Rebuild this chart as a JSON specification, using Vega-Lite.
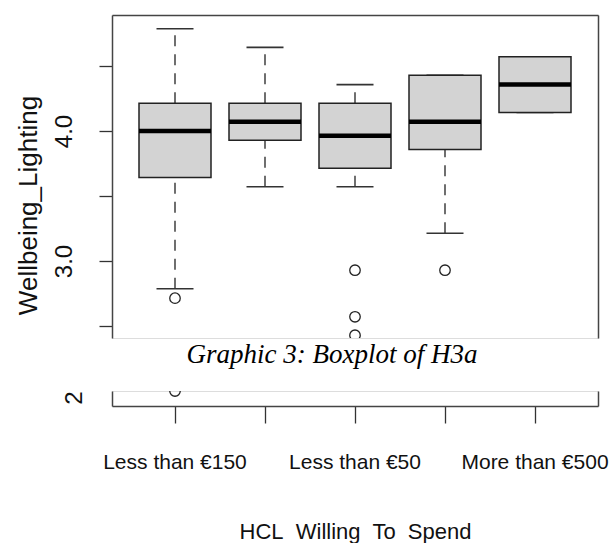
{
  "$schema": "https://vega.github.io/schema/vega-lite/v6.json",
  "background": "white",
  "padding": {"left": 14, "top": 14, "right": 0, "bottom": 0},
  "datasets": {
    "summary": [
      {"cat": "Less than €150", "lower": 2.786, "q1": 3.643, "median": 4.0, "q3": 4.214, "upper": 4.786},
      {"cat": "Less than €250", "lower": 3.571, "q1": 3.929, "median": 4.071, "q3": 4.214, "upper": 4.643},
      {"cat": "Less than €50", "lower": 3.571, "q1": 3.714, "median": 3.964, "q3": 4.214, "upper": 4.357},
      {"cat": "Less than €500", "lower": 3.214, "q1": 3.857, "median": 4.071, "q3": 4.429, "upper": 4.429},
      {"cat": "More than €500", "lower": 4.143, "q1": 4.143, "median": 4.357, "q3": 4.571, "upper": 4.571}
    ],
    "outliers": [
      {"cat": "Less than €150", "value": 2.714},
      {"cat": "Less than €150", "value": 2.0},
      {"cat": "Less than €50", "value": 2.929},
      {"cat": "Less than €50", "value": 2.571},
      {"cat": "Less than €50", "value": 2.429},
      {"cat": "Less than €500", "value": 2.929}
    ]
  },
  "resolve": {"scale": {"x": "independent", "y": "independent"}},
  "bounds": "flush",
  "spacing": 53,
  "vconcat": [
    {
      "width": 486,
      "height": 323,
      "resolve": {"axis": {"x": "independent", "y": "independent"}},
      "layer": [
        {
          "data": {"name": "summary"},
          "mark": {"type": "rule", "strokeDash": [11, 8], "color": "#222", "strokeWidth": 1.3, "opacity": 1},
          "encoding": {
            "x": {"field": "cat", "type": "nominal", "sort": null, "axis": null,
                  "scale": {"type": "band", "paddingInner": 0, "paddingOuter": 0.2, "domain": ["Less than €150", "Less than €250", "Less than €50", "Less than €500", "More than €500"]}},
            "y": {"field": "q3", "type": "quantitative", "axis": null, "scale": {"domain": [2.4077, 4.8923], "nice": false, "zero": false}},
            "y2": {"field": "upper"}
          }
        },
        {
          "data": {"name": "summary"},
          "mark": {"type": "rule", "strokeDash": [11, 8], "color": "#222", "strokeWidth": 1.3, "opacity": 1},
          "encoding": {
            "x": {"field": "cat", "type": "nominal", "sort": null, "axis": null},
            "y": {"field": "lower", "type": "quantitative", "axis": null},
            "y2": {"field": "q1"}
          }
        },
        {
          "data": {"name": "summary"},
          "mark": {"type": "tick", "size": 37, "thickness": 1.6, "color": "#333", "orient": "horizontal", "opacity": 1},
          "encoding": {
            "x": {"field": "cat", "type": "nominal", "sort": null, "axis": null},
            "y": {"field": "upper", "type": "quantitative", "axis": null}
          }
        },
        {
          "data": {"name": "summary"},
          "mark": {"type": "tick", "size": 37, "thickness": 1.6, "color": "#333", "orient": "horizontal", "opacity": 1},
          "encoding": {
            "x": {"field": "cat", "type": "nominal", "sort": null, "axis": null},
            "y": {"field": "lower", "type": "quantitative", "axis": null}
          }
        },
        {
          "data": {"name": "summary"},
          "mark": {"type": "bar", "width": {"band": 0.8}, "fill": "#d3d3d3", "stroke": "#222", "strokeWidth": 1.5, "opacity": 1},
          "encoding": {
            "x": {"field": "cat", "type": "nominal", "sort": null,
                  "axis": {"orient": "top", "ticks": false, "labels": false, "title": null, "domain": true, "domainColor": "#444", "domainWidth": 1.5, "grid": false}},
            "y": {"field": "q1", "type": "quantitative",
                  "axis": {"orient": "left", "values": [2.5, 3, 3.5, 4, 4.5],
                           "labelExpr": "datum.value % 1 === 0 ? format(datum.value, '.1f') : ''",
                           "labelAngle": 270, "labelAlign": "center", "labelBaseline": "alphabetic",
                           "labelFont": "Liberation Sans", "labelFontSize": 24, "labelColor": "#111", "labelPadding": 28,
                           "tickSize": 13, "tickColor": "#333", "tickWidth": 1.3,
                           "domainColor": "#444", "domainWidth": 1.5, "grid": false,
                           "title": "Wellbeing_Lighting", "titleFont": "Liberation Sans", "titleFontSize": 26,
                           "titleFontWeight": "normal", "titleColor": "#111", "titlePadding": 11, "titleY": 190}},
            "y2": {"field": "q3"}
          }
        },
        {
          "data": {"name": "summary"},
          "mark": {"type": "tick", "size": 72, "thickness": 4.5, "color": "#000", "orient": "horizontal", "opacity": 1},
          "encoding": {
            "x": {"field": "cat", "type": "nominal", "sort": null, "axis": null},
            "y": {"field": "median", "type": "quantitative",
                  "axis": {"orient": "right", "ticks": false, "labels": false, "title": null, "domain": true, "domainColor": "#444", "domainWidth": 1.5, "grid": false}}
          }
        },
        {
          "data": {"name": "outliers"},
          "mark": {"type": "point", "shape": "circle", "filled": false, "size": 110, "stroke": "#222", "strokeWidth": 1.3, "opacity": 1, "clip": true},
          "encoding": {
            "x": {"field": "cat", "type": "nominal", "sort": null, "axis": null},
            "y": {"field": "value", "type": "quantitative", "axis": null}
          }
        }
      ]
    },
    {
      "width": 486,
      "height": 15,
      "title": {"text": "Graphic 3: Boxplot of H3a", "font": "Liberation Serif", "fontStyle": "italic", "fontSize": 27, "fontWeight": "normal", "color": "#000", "anchor": "middle", "dx": -23, "offset": 22},
      "resolve": {"axis": {"x": "independent", "y": "independent"}},
      "layer": [
        {
          "data": {"name": "outliers"},
          "mark": {"type": "point", "shape": "circle", "filled": false, "size": 110, "stroke": "#222", "strokeWidth": 1.3, "opacity": 1, "clip": true},
          "encoding": {
            "x": {"field": "cat", "type": "nominal", "sort": null,
                  "scale": {"type": "band", "paddingInner": 0, "paddingOuter": 0.2, "domain": ["Less than €150", "Less than €250", "Less than €50", "Less than €500", "More than €500"]},
                  "axis": {"orient": "bottom", "tickSize": 17, "tickColor": "#333", "tickWidth": 1.3,
                           "domainColor": "#444", "domainWidth": 1.5, "grid": false,
                           "labelFont": "Liberation Sans", "labelFontSize": 21, "labelColor": "#111", "labelLimit": 0,
                           "labelAngle": 0, "labelPadding": 28, "labelOverlap": "parity",
                           "title": "HCL\u00a0 Willing\u00a0 To\u00a0 Spend", "titleFont": "Liberation Sans",
                           "titleFontSize": 22, "titleFontWeight": "normal", "titleColor": "#111", "titlePadding": 49}},
            "y": {"field": "value", "type": "quantitative", "scale": {"domain": [1.8846, 2.0], "nice": false, "zero": false},
                  "axis": {"orient": "left", "values": [2], "labelExpr": "'2'",
                           "labelAngle": 270, "labelAlign": "right", "labelBaseline": "alphabetic",
                           "labelFont": "Liberation Sans", "labelFontSize": 24, "labelColor": "#111", "labelPadding": 18,
                           "tickSize": 13, "tickOpacity": 0, "domainColor": "#444", "domainWidth": 1.5, "grid": false, "title": null}}
          }
        },
        {
          "data": {"name": "summary"},
          "mark": {"type": "tick", "size": 72, "thickness": 4.5, "color": "#000", "orient": "horizontal", "opacity": 1, "clip": true},
          "encoding": {
            "x": {"field": "cat", "type": "nominal", "sort": null, "axis": null},
            "y": {"field": "median", "type": "quantitative",
                  "axis": {"orient": "right", "ticks": false, "labels": false, "title": null, "domain": true, "domainColor": "#444", "domainWidth": 1.5, "grid": false}}
          }
        }
      ]
    }
  ]
}
